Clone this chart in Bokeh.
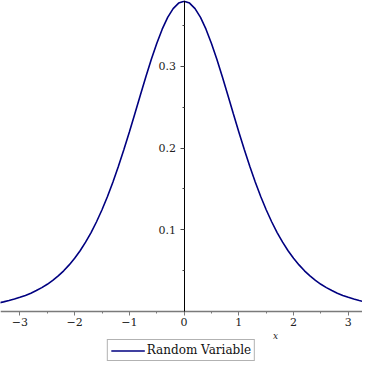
from bokeh.plotting import figure
from bokeh.models import Range1d, Legend, LegendItem, Label, FixedTicker
from bokeh.embed import file_html
from bokeh.resources import INLINE

x_values = [-3.4, -3.3, -3.2, -3.1, -3.0, -2.9, -2.8, -2.7, -2.6, -2.5, -2.4, -2.3,
            -2.2, -2.1, -2.0, -1.9, -1.8, -1.7, -1.6, -1.5, -1.4, -1.3, -1.2, -1.1,
            -1.0, -0.9, -0.8, -0.7, -0.6, -0.5, -0.4, -0.3, -0.2, -0.1, 0.0,
            0.1, 0.2, 0.3, 0.4, 0.5, 0.6, 0.7, 0.8, 0.9, 1.0, 1.1, 1.2, 1.3, 1.4,
            1.5, 1.6, 1.7, 1.8, 1.9, 2.0, 2.1, 2.2, 2.3, 2.4, 2.5, 2.6, 2.7, 2.8,
            2.9, 3.0, 3.1, 3.2, 3.3, 3.4]
density = [0.0104, 0.0118, 0.0134, 0.0152, 0.0173, 0.0197, 0.0224, 0.0256, 0.0292,
           0.0333, 0.0381, 0.0436, 0.0498, 0.0570, 0.0651, 0.0743, 0.0848, 0.0966,
           0.1098, 0.1245, 0.1407, 0.1585, 0.1777, 0.1981, 0.2197, 0.2419, 0.2645,
           0.2868, 0.3082, 0.3279, 0.3454, 0.3598, 0.3706, 0.3773, 0.3796,
           0.3773, 0.3706, 0.3598, 0.3454, 0.3279, 0.3082, 0.2868, 0.2645, 0.2419,
           0.2197, 0.1981, 0.1777, 0.1585, 0.1407, 0.1245, 0.1098, 0.0966, 0.0848,
           0.0743, 0.0651, 0.0570, 0.0498, 0.0436, 0.0381, 0.0333, 0.0292, 0.0256,
           0.0224, 0.0197, 0.0173, 0.0152, 0.0134, 0.0118, 0.0104]

x_ticks = [-3, -2, -1, 0, 1, 2, 3]
x_tick_labels = ["\u22123", "\u22122", "\u22121", "0", "1", "2", "3"]
x_minor_ticks = [-3.5, -2.5, -1.5, -0.5, 0.5, 1.5, 2.5, 3.5]
y_ticks = [0.1, 0.2, 0.3]
y_tick_labels = ["0.1", "0.2", "0.3"]
y_minor_ticks = [0.05, 0.15, 0.25, 0.35]
series_name = "Random Variable"
axis_name = "x"

FONT = "DejaVu Serif"
Y_TOP = 0.3805

p = figure(width=362, height=362, output_backend="svg", toolbar_location=None,
           x_range=Range1d(-3.355, 3.26), y_range=Range1d(-0.0624, Y_TOP),
           min_border_left=0, min_border_right=0, min_border_top=0,
           min_border_bottom=0)
p.outline_line_color = None
p.grid.visible = False
p.background_fill_color = "white"
p.border_fill_color = "white"

r = p.line(x_values, density, line_color="#000080", line_width=1.6)

# x axis drawn at y = 0
xa = p.xaxis[0]
xa.fixed_location = 0
xa.ticker = FixedTicker(ticks=x_ticks, minor_ticks=x_minor_ticks)
xa.major_label_overrides = {t: l for t, l in zip(x_ticks, x_tick_labels)}
xa.axis_line_color = "#7a7a7a"
xa.axis_line_width = 1.6
xa.major_tick_line_color = "#7a7a7a"
xa.minor_tick_line_color = "#7a7a7a"
xa.major_tick_in = 0
xa.major_tick_out = 4
xa.minor_tick_in = 0
xa.minor_tick_out = 2
xa.major_label_standoff = 3
xa.major_label_text_font = FONT
xa.major_label_text_font_size = "11px"
xa.major_label_text_color = "#222222"

# y axis drawn at x = 0, only above the x axis
ya = p.yaxis[0]
ya.fixed_location = 0
ya.bounds = (0, Y_TOP)
ya.ticker = FixedTicker(ticks=y_ticks, minor_ticks=y_minor_ticks)
ya.major_label_overrides = {t: l for t, l in zip(y_ticks, y_tick_labels)}
ya.axis_line_color = "black"
ya.axis_line_width = 1
ya.major_tick_line_color = "#444444"
ya.minor_tick_line_color = "#444444"
ya.major_tick_in = 0
ya.major_tick_out = 4
ya.minor_tick_in = 0
ya.minor_tick_out = 2
ya.major_label_standoff = 4
ya.major_label_text_font = FONT
ya.major_label_text_font_size = "11px"
ya.major_label_text_color = "#222222"

# axis name "x", below the tick labels, to the right of centre
p.add_layout(Label(x=1.67, y=0, y_offset=-25, text=axis_name,
                   text_font=FONT, text_font_size="9px",
                   text_font_style="italic", text_align="center",
                   text_baseline="middle", text_color="#222222"))

legend = Legend(items=[LegendItem(label=series_name, renderers=[r])],
                location="bottom_center", orientation="horizontal",
                border_line_color="#666666", border_line_width=1.5,
                label_text_font=FONT, label_text_font_size="12px",
                label_text_color="#111111",
                glyph_width=34, glyph_height=13, label_standoff=2,
                padding=3, margin=1, spacing=0,
                background_fill_color="white", background_fill_alpha=1)
p.add_layout(legend, "center")

open("out.html", "w").write(file_html(p, INLINE))
